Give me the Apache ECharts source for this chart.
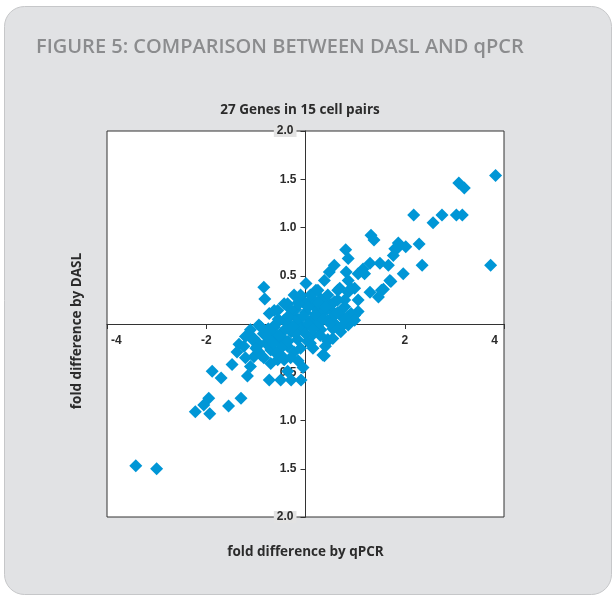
<!DOCTYPE html>
<html>
<head>
<meta charset="utf-8">
<script src="https://cdn.jsdelivr.net/npm/echarts@6/dist/echarts.min.js"></script>
<style>
  html, body { margin: 0; padding: 0; background: #fff; }
  #chart { width: 614px; height: 596px; }
</style>
</head>
<body>
<div id="chart"></div>
<script>
// fold difference by qPCR (x) / fold difference by DASL (y)
var qpcrValues = [
  3.83, 3.09, 3.20, 2.18, 2.75, 2.57, 3.04, 3.16,
  1.32, 1.38, 2.29, 1.87, 2.02, 1.84, 1.77, 0.81, 0.86, 1.80,
  3.73, 2.35, 1.97, 1.72, 1.57, 1.47, 1.30, 1.06, 0.99, 0.86, 0.71, 0.45, 0.40, 0.38,
  -0.84, -0.82, 0.01,
  -1.88, -1.70, -1.48, -1.34, -1.38, -1.17, -0.73, -0.50, -0.29, -0.09, -0.36,
  -3.42, -3.00, -2.22, -1.93, -2.05, -1.95, -1.55, -1.30,
  -1.11, -1.21, -1.04, -0.94, -1.07, -1.14, -0.70, -0.56, -0.46, -0.84,
  1.16, 1.30, 1.50, 1.67, 1.06, 1.19, 0.58, 0.48, 0.38, 0.82, 0.86, 0.69, 0.86, 0.99,
  0.31, 0.58, 0.79, 0.92, 0.72, 0.52, 0.31, 0.18, 1.06, 1.70, 1.53,
  -0.23, -0.36, -0.56, -0.73, -0.13, -0.94,
  -0.06, 0.15, 0.31, 0.52, 0.72, -0.43, -0.63, -0.90, -1.11, -1.21, -1.04, -1.24, -0.97,
  -0.77, -0.63, -0.43, -0.29, -0.16, -0.02, 0.11, 0.25, 0.38, 0.45, 0.58, 0.72,
  0.31, 0.15, 0.04, -0.16, -0.29, -0.50, -0.56, -0.36, -0.23, -0.70, -0.90, -0.43,
  0.35, 0.45, 0.55, 0.99, 0.79, 0.92, 0.65, 0.21,
  -0.20, 0.00, 0.10, 0.20, -0.10, 0.05, -0.35, -0.55, -0.45, 0.25, 0.40, 0.60,
  -0.65, -0.80, -0.30, -0.10, 0.15, -0.15, -0.05,
  -0.60, -0.40, -0.20, 0.00, 0.20, 0.35, 0.50, 0.10, -0.10, -0.30, -0.50, -0.70,
  -0.85, 0.65, 0.45, 0.25, -0.15, 0.30, 0.55, -0.95, -1.00, -0.60, 0.10, 0.00,
  -0.75, -0.55, -0.35, -0.25, -0.05, 0.05, 0.25, 0.40, 0.65, 0.80, -0.45, -0.15,
  0.15, 0.50, -0.65, -0.35
];
var daslValues = [
  1.54, 1.46, 1.41, 1.13, 1.13, 1.05, 1.13, 1.13,
  0.92, 0.87, 0.83, 0.84, 0.80, 0.78, 0.71, 0.77, 0.68, 0.78,
  0.61, 0.61, 0.52, 0.44, 0.36, 0.28, 0.33, 0.13, 0.09, -0.01, -0.08, -0.16, -0.23, -0.33,
  0.38, 0.26, 0.42,
  -0.49, -0.56, -0.42, -0.21, -0.29, -0.54, -0.58, -0.58, -0.58, -0.58, -0.49,
  -1.47, -1.50, -0.91, -0.93, -0.84, -0.77, -0.85, -0.77,
  -0.44, -0.35, -0.34, -0.29, -0.16, -0.11, -0.41, -0.37, -0.34, -0.35,
  0.57, 0.63, 0.63, 0.61, 0.52, 0.52, 0.61, 0.54, 0.45, 0.54, 0.45, 0.37, 0.33, 0.37,
  0.26, 0.23, 0.18, 0.11, 0.08, 0.14, 0.14, 0.18, 0.25, 0.45, 0.35,
  0.30, 0.21, 0.14, 0.11, 0.21, -0.01,
  0.25, 0.26, 0.21, 0.20, 0.14, 0.21, 0.14, -0.03, -0.06, -0.13, -0.15, -0.23, -0.23,
  -0.11, -0.03, 0.04, 0.09, 0.01, -0.04, 0.04, 0.11, 0.13, 0.04, 0.01, -0.03,
  -0.06, -0.11, -0.18, -0.16, -0.08, -0.10, -0.18, -0.23, -0.29, -0.27, -0.32, -0.37,
  -0.32, -0.18, -0.15, 0.04, 0.25, 0.37, 0.35, 0.35,
  0.15, 0.12, 0.20, 0.05, -0.05, 0.00, 0.00, 0.05, -0.15, -0.02, 0.25, 0.10,
  -0.10, -0.20, -0.35, -0.25, -0.25, -0.38, -0.45,
  0.00, -0.05, -0.10, -0.10, 0.10, 0.05, 0.05, 0.30, 0.30, 0.15, -0.25, -0.15,
  -0.10, 0.25, 0.30, 0.35, 0.05, -0.12, -0.05, -0.20, -0.25, -0.30, -0.20, 0.20,
  -0.05, -0.12, 0.08, -0.02, 0.08, 0.18, 0.22, 0.18, 0.12, 0.05, -0.22, 0.22,
  -0.05, 0.00, -0.20, -0.18
];
var xTicks = [-4, -2, 0, 2, 4];
var yTicks = [-2, -1.5, -1, -0.5, 0, 0.5, 1, 1.5, 2];

var points = qpcrValues.map(function (x, i) {
  return [x, daslValues[i]];
});

var textColor = "#2b2b2b";
var nameFont = "'Open Sans', sans-serif";
var tickFont = "'Liberation Sans', Arial, sans-serif";

// plot frame, axes cross in its middle
var gridLeft = 107, gridRight = 110, gridTop = 131, gridBottom = 79;
var plotW = 614 - gridLeft - gridRight;
var plotH = 596 - gridTop - gridBottom;

var tickText = {
  color: textColor,
  fontSize: 12,
  fontWeight: "bold",
  fontFamily: tickFont,
};

var chart = echarts.init(document.getElementById("chart"));
chart.setOption({
  animation: false,
  graphic: [
    {
      type: "rect",
      z: -10,
      silent: true,
      shape: { x: 4.5, y: 6.5, width: 607, height: 588, r: 20 },
      style: { fill: "#e1e2e4", stroke: "#c6c7c9", lineWidth: 1 },
    },
  ],
  title: [
    {
      text: "FIGURE 5: COMPARISON BETWEEN DASL AND qPCR",
      left: 31,
      top: 32,
      textStyle: {
        color: "#8b8c8e",
        fontSize: 20,
        fontWeight: 600,
        fontFamily: nameFont,
      },
    },
    {
      text: "27 Genes in 15 cell pairs",
      left: 295,
      top: 98,
      textAlign: "center",
      textStyle: {
        color: textColor,
        fontSize: 13.5,
        fontWeight: "bold",
        fontFamily: nameFont,
      },
    },
  ],
  grid: {
    left: gridLeft,
    right: gridRight,
    top: gridTop,
    bottom: gridBottom,
    outerBoundsMode: "none",
    containLabel: false,
    show: true,
    backgroundColor: "#fff",
    borderColor: "#333",
    borderWidth: 1,
  },
  xAxis: {
    type: "value",
    min: xTicks[0],
    max: xTicks[xTicks.length - 1],
    interval: 2,
    position: "bottom",
    offset: -plotH / 2,
    name: "fold difference by qPCR",
    nameLocation: "middle",
    nameGap: 221,
    nameTextStyle: {
      color: textColor,
      fontSize: 13.5,
      fontWeight: "bold",
      fontFamily: nameFont,
    },
    axisLine: { onZero: false, lineStyle: { color: "#333", width: 1 } },
    axisTick: { length: 5, lineStyle: { color: "#333" } },
    splitLine: { show: false },
    axisLabel: Object.assign({}, tickText, {
      margin: 11,
      alignMinLabel: "left",
      alignMaxLabel: "right",
      formatter: function (v) {
        if (v === 0) return "";
        if (v === xTicks[0]) return "{first|" + v + "}";
        if (v === xTicks[xTicks.length - 1]) return "{last|" + v + "}";
        return String(v);
      },
      rich: {
        first: Object.assign({ padding: [0, 0, 0, 4] }, tickText),
        last: Object.assign({ padding: [0, 6, 0, 0] }, tickText),
      },
    }),
  },
  yAxis: {
    type: "value",
    min: yTicks[0],
    max: yTicks[yTicks.length - 1],
    interval: 0.5,
    position: "left",
    offset: -plotW / 2,
    name: "fold difference by DASL",
    nameLocation: "middle",
    nameGap: 221,
    nameTextStyle: {
      color: textColor,
      fontSize: 13.5,
      fontWeight: "bold",
      fontFamily: nameFont,
      padding: [0, 14, 0, 0],
    },
    axisLine: { onZero: false, lineStyle: { color: "#333", width: 1 } },
    axisTick: { length: 5, lineStyle: { color: "#333" } },
    splitLine: { show: false },
    axisLabel: Object.assign({}, tickText, {
      margin: 9,
      formatter: function (v) {
        if (v === 0) return "";
        var s = Math.abs(v).toFixed(1);
        // top and bottom labels sit on the frame line
        return Math.abs(v) === 2 ? "{edge|" + s + "}" : s;
      },
      rich: {
        edge: Object.assign({ backgroundColor: "#e3e3e3", padding: [0, 3] }, tickText),
      },
    }),
  },
  series: [
    {
      type: "scatter",
      symbol: "diamond",
      symbolSize: 13,
      itemStyle: { color: "#0096d6", opacity: 1 },
      data: points,
    },
  ],
});
</script>
</body>
</html>
